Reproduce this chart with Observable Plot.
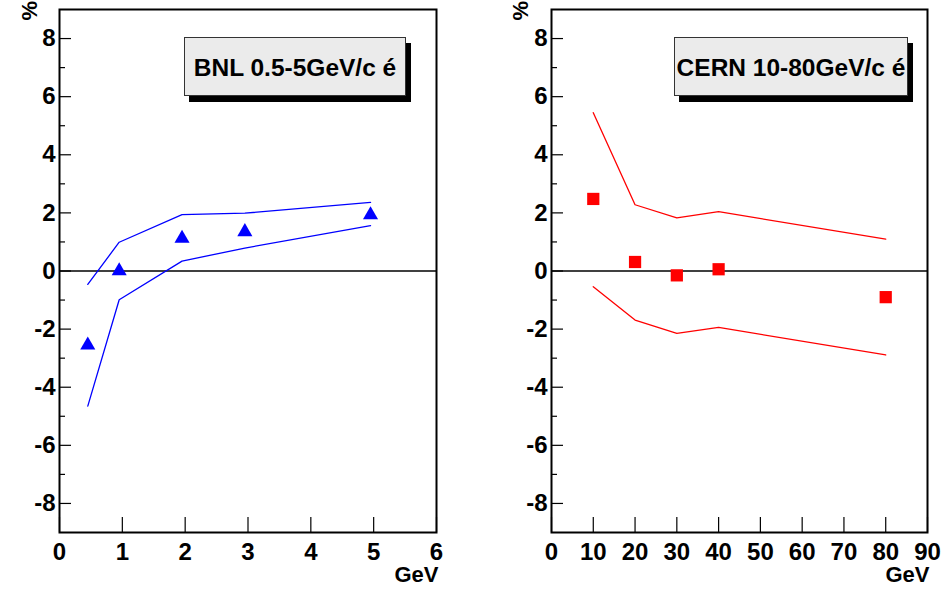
<!DOCTYPE html>
<html><head><meta charset="utf-8">
<script src="https://cdn.jsdelivr.net/npm/d3@7"></script>
<script src="https://cdn.jsdelivr.net/npm/@observablehq/plot@0.6"></script>
<style>
body{margin:0;background:#fff;}
#wrap{position:relative;width:943px;height:591px;overflow:hidden;font-family:"Liberation Sans",Arial,Helvetica,sans-serif;background:#fff;}
.panel{position:absolute;top:0;}
.leg{position:absolute;box-sizing:border-box;background:#ebebeb;border:1px solid #333;box-shadow:5px 6px 0 #000;display:flex;align-items:center;justify-content:center;font-weight:bold;font-size:24.5px;white-space:nowrap;color:#000;padding-top:3px;}
</style></head><body><div id="wrap"></div>
<script>
// ---- data ----
const bnlEnergy = [0.45, 0.95, 1.95, 2.95, 4.95];
const bnlValue  = [-2.55, 0.0, 1.12, 1.35, 1.93];
const bnlUpper  = [-0.46, 0.99, 1.94, 1.99, 2.36];
const bnlLower  = [-4.65, -0.99, 0.34, 0.79, 1.56];

const cernEnergy = [10, 20, 30, 40, 80];
const cernValue  = [2.48, 0.31, -0.15, 0.06, -0.90];
const cernUpper  = [5.45, 2.28, 1.83, 2.04, 1.10];
const cernLower  = [-0.54, -1.69, -2.15, -1.94, -2.89];

const yMajorTicks = [-8, -6, -4, -2, 0, 2, 4, 6, 8];
const yMinorTicks = [-7, -5, -3, -1, 1, 3, 5, 7];
const bnlXTicks  = [0, 1, 2, 3, 4, 5, 6];
const cernXTicks = [0, 10, 20, 30, 40, 50, 60, 70, 80, 90];
const legendLabels = ["BNL 0.5-5GeV/c é", "CERN 10-80GeV/c é"];
const xUnit = "GeV";
const yUnit = "%";

const FONT = '"Liberation Sans", Arial, Helvetica, sans-serif';

function panel({energy, value, upper, lower, xDomain, xTicks, color, symbol, r, width, marginLeft, marginRight, unitDx}) {
  const height = 591, marginTop = 9, marginBottom = 59;
  const fw = width - marginLeft - marginRight, fh = height - marginTop - marginBottom;
  const pts = energy.map((e, i) => ({e, v: value[i], up: upper[i], lo: lower[i]}));
  return Plot.plot({
    width, height, marginLeft, marginRight, marginTop, marginBottom,
    x: {domain: xDomain, axis: null},
    y: {domain: [-9, 9], axis: null},
    style: {fontFamily: FONT, fontWeight: "bold", fontSize: "24px", background: "transparent", overflow: "visible", color: "#000"},
    marks: [
      Plot.ruleY([0], {stroke: "#000", strokeWidth: 1.4}),
      Plot.line(pts, {x: "e", y: "up", stroke: color, strokeWidth: 1.3}),
      Plot.line(pts, {x: "e", y: "lo", stroke: color, strokeWidth: 1.3}),
      Plot.dot(pts, {x: "e", y: "v", symbol, r, fill: color, stroke: "none"}),
      Plot.tickY(yMajorTicks, {stroke: "#000", strokeWidth: 1.2, insetRight: fw - 12}),
      Plot.tickY(yMinorTicks, {stroke: "#000", strokeWidth: 1.2, insetRight: fw - 6}),
      Plot.tickX(xTicks, {stroke: "#000", strokeWidth: 1.2, insetTop: fh - 15}),
      Plot.axisY({ticks: yMajorTicks, tickSize: 0, tickPadding: 4, tickFormat: d => String(d), fontSize: 24, fontWeight: "bold", label: null, fill: "#000"}),
      Plot.axisX({ticks: xTicks, tickSize: 0, tickPadding: 10, tickFormat: d => String(d), fontSize: 24, fontWeight: "bold", label: null, fill: "#000"}),
      Plot.frame({stroke: "#000", strokeWidth: 2}),
      Plot.text([xUnit], {text: d => d, frameAnchor: "bottom-right", dx: 2, dy: 49, textAnchor: "end", fontSize: 22, fontWeight: "bold", fill: "#000"}),
      Plot.text([yUnit], {text: d => d, frameAnchor: "top-left", dx: unitDx, dy: 11, rotate: -90, fontSize: 22, fontWeight: "bold", fill: "#000"})
    ]
  });
}

const wrap = document.getElementById("wrap");

const left = panel({energy: bnlEnergy, value: bnlValue, upper: bnlUpper, lower: bnlLower,
  xDomain: [0, 6], xTicks: bnlXTicks, color: "#0000ff", symbol: "triangle", r: 5.6,
  width: 470, marginLeft: 59, marginRight: 34, unitDx: -38});
left.classList.add("panel"); left.style.left = "0px";
wrap.appendChild(left);

const right = panel({energy: cernEnergy, value: cernValue, upper: cernUpper, lower: cernLower,
  xDomain: [0, 90], xTicks: cernXTicks, color: "#ff0000", symbol: "square", r: 6.9,
  width: 473, marginLeft: 81, marginRight: 16, unitDx: -39});
right.classList.add("panel"); right.style.left = "470px";
wrap.appendChild(right);

const legPos = [
  {left: 184, top: 37, width: 222, height: 59},
  {left: 674, top: 37, width: 234, height: 59}
];
legendLabels.forEach((t, i) => {
  const d = document.createElement("div");
  d.className = "leg";
  const p = legPos[i];
  d.style.left = p.left + "px"; d.style.top = p.top + "px";
  d.style.width = p.width + "px"; d.style.height = p.height + "px";
  d.textContent = t;
  wrap.appendChild(d);
});
</script></body></html>
